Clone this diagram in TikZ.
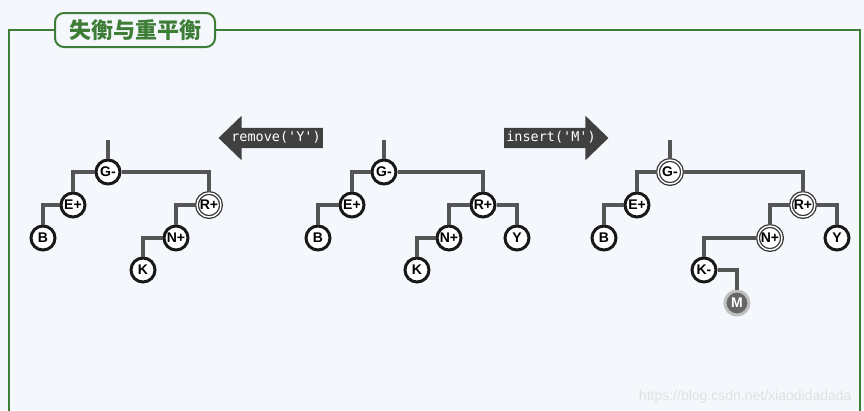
\documentclass[tikz,border=0pt]{standalone}
\usepackage{fontspec}
\setmainfont{Liberation Sans}
\setmonofont{DejaVu Sans Mono}
\newfontfamily\cjk{Noto Sans CJK SC}
\usetikzlibrary{shapes.arrows}

\definecolor{bgcol}{HTML}{F4F8FC}
\definecolor{framegreen}{HTML}{3E7D35}
\definecolor{edgegray}{HTML}{555555}
\definecolor{arrowgray}{HTML}{404040}

\tikzset{
    avl/.style={circle, draw=black!90, line width=3pt, fill=white, minimum size=24pt,
        inner sep=0pt, font=\bfseries\fontsize{14}{14}\selectfont},
    hl/.style={draw=black!80, line width=1.3pt, double=white, double distance=1.4pt},
    added/.style={draw=black!25, fill=black!60, text=white},
    link/.style={edgegray, line width=3.5pt},
    op/.style={single arrow, fill=arrowgray, text=white, single arrow tip angle=88,
        single arrow head extend=12pt, inner xsep=2pt, inner ysep=3pt,
        text height=10pt, text depth=4pt, font=\ttfamily\fontsize{13.5}{13.5}\selectfont},
}

\begin{document}
\begin{tikzpicture}[x=1pt, y=-1pt]
    \useasboundingbox (0,0) rectangle (864,410);
    \fill[bgcol] (0,0) rectangle (864,410);

    % 标题与外框
    \node (title) [draw=framegreen, line width=2pt, rounded corners=9pt, fill=bgcol,
        minimum width=160pt, minimum height=34pt, text=framegreen,
        font=\cjk\bfseries\fontsize{22}{22}\selectfont] at (135,30) {失衡与重平衡};
    \coordinate (frameBL) at (9,412);
    \coordinate (frameBR) at (860,412);
    \draw[framegreen, line width=1.5pt] (frameBL) |- (title.west);
    \draw[framegreen, line width=1.5pt] (title.east) -| (frameBR);

    % 操作箭头
    \node (rm) [op, shape border rotate=180] at (276,138) {remove('Y')};
    \node (ins) [op] at (551,138) {insert('M')};

    % 树一：删除Y之后
    \coordinate (aTop) at (108,140);
    \node (aG) [avl] at (108,172) {G-};
    \node (aE) [avl] at (73,205) {E+};
    \node (aB) [avl] at (43,238) {B};
    \node (aR) [avl, hl] at (209,205) {R+};
    \node (aN) [avl] at (176,238) {N+};
    \node (aK) [avl] at (143,270) {K};

    % 树二：原树
    \coordinate (bTop) at (384,140);
    \node (bG) [avl] at (384,172) {G-};
    \node (bE) [avl] at (352,205) {E+};
    \node (bB) [avl] at (318,238) {B};
    \node (bR) [avl] at (483,205) {R+};
    \node (bN) [avl] at (449,238) {N+};
    \node (bY) [avl] at (517,238) {Y};
    \node (bK) [avl] at (417,270) {K};

    % 树三：插入M之后
    \coordinate (cTop) at (670,140);
    \node (cG) [avl, hl] at (670,172) {G-};
    \node (cE) [avl] at (637,205) {E+};
    \node (cB) [avl] at (604,238) {B};
    \node (cR) [avl, hl] at (803,205) {R+};
    \node (cN) [avl, hl] at (770,238) {N+};
    \node (cY) [avl] at (837,238) {Y};
    \node (cK) [avl] at (704,270) {K-};
    \node (cM) [avl, added] at (737,303) {M};

    % 连线
    \foreach \t in {a, b, c} {
        \draw[link] (\t Top) -- (\t G);
    }
    \foreach \p/\c in {aG/aE, aE/aB, aG/aR, aR/aN, aN/aK,
                       bG/bE, bE/bB, bG/bR, bR/bN, bR/bY, bN/bK,
                       cG/cE, cE/cB, cG/cR, cR/cN, cR/cY, cN/cK, cK/cM} {
        \draw[link] (\p) -| (\c);
    }

    % 水印
    \node (mark) [anchor=east, text=black!12, font=\fontsize{14}{14}\selectfont]
        at (855,397) {https://blog.csdn.net/xiaodidadada};
\end{tikzpicture}
\end{document}
